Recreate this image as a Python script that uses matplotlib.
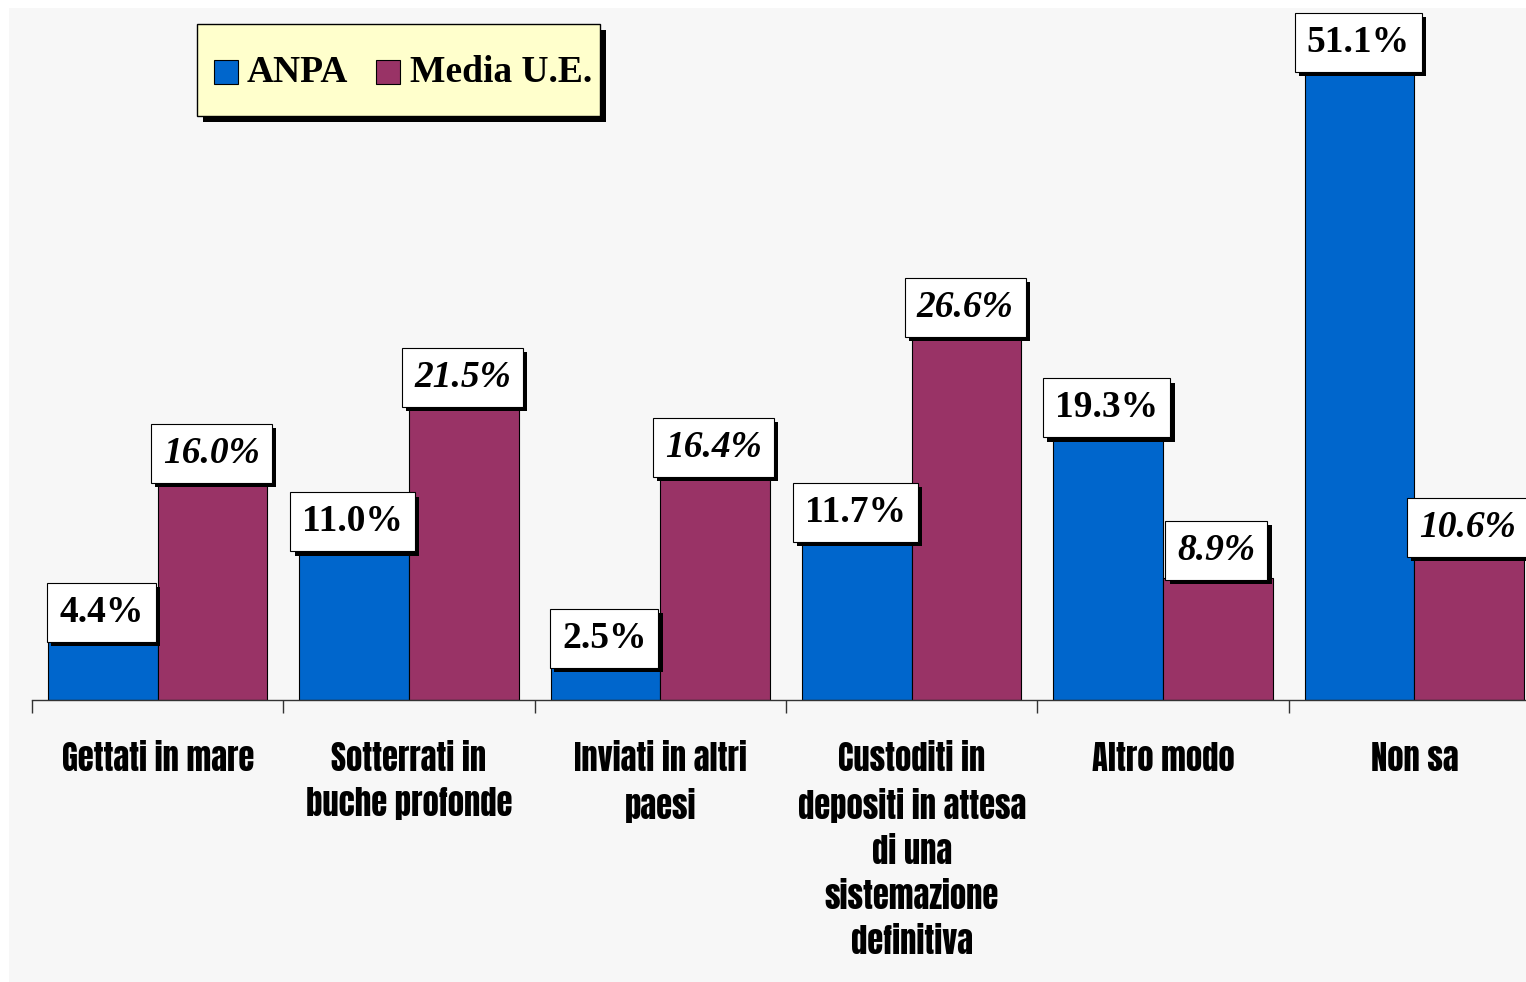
import matplotlib
matplotlib.use("Agg")
import matplotlib.pyplot as plt
from matplotlib.patches import Rectangle
import matplotlib.patheffects as pe
import numpy as np

categories = ["Gettati in mare", "Sotterrati in\nbuche profonde", "Inviati in altri\npaesi",
              "Custoditi in\ndepositi in attesa\ndi una\nsistemazione\ndefinitiva",
              "Altro modo", "Non sa"]
anpa = [4.4, 11.0, 2.5, 11.7, 19.3, 51.1]
media_ue = [16.0, 21.5, 16.4, 26.6, 8.9, 10.6]
series_names = ["ANPA", "Media U.E."]
colors = ["#0066cc", "#993366"]
ymax = 50

W, H = 1526, 982
fig = plt.figure(figsize=(W / 100, H / 100), dpi=100, facecolor="white")
fig.patches.append(Rectangle((9 / W, 0), 1, 1 - 8 / H, transform=fig.transFigure,
                             facecolor="#f7f7f7", edgecolor="none", zorder=-10))

left, right = 32 / W, 1540 / W
bottom, top = 1 - 700 / H, 1 - 14 / H
ax = fig.add_axes([left, bottom, right - left, top - bottom])
ax.set_facecolor("none")

x = np.arange(len(categories))
bw = 0.436
b1 = ax.bar(x - bw / 2, anpa, bw, color=colors[0], edgecolor="black", linewidth=0.8,
            label=series_names[0])
b2 = ax.bar(x + bw / 2, media_ue, bw, color=colors[1], edgecolor="black", linewidth=0.8,
            label=series_names[1])
ax.set_xlim(-0.5, len(categories) - 0.5)
ax.set_ylim(0, ymax)

for s in ["top", "right", "left"]:
    ax.spines[s].set_visible(False)
ax.spines["bottom"].set_color("#333333")
ax.spines["bottom"].set_linewidth(1.0)
ax.set_yticks([])
ax.set_xticks(x)
ax.set_xticklabels(categories, family=["Anton", "Oswald", "Barlow Condensed"],
                   fontweight="black", fontsize=23.5, linespacing=1.42, va="top")
ax.tick_params(axis="x", which="major", length=0, pad=30)
ax.set_xticks(np.arange(len(categories) + 1) - 0.5, minor=True)
ax.tick_params(axis="x", which="minor", length=9.5, width=1.0, color="#333333", direction="out")

fs = 27
shadow = [pe.SimplePatchShadow(offset=(3, -3), shadow_rgbFace="black", alpha=1), pe.Normal()]


def label(xc, v, italic):
    kw = dict(textcoords="offset points", ha="center", fontsize=fs, fontweight="bold",
              family="Liberation Serif", style="italic" if italic else "normal",
              bbox=dict(boxstyle="square,pad=0.32", fc="white", ec="black", lw=0.8),
              annotation_clip=False, zorder=5)
    if v > ymax:
        t = ax.annotate(f"{v:.1f}%", (xc, ymax), xytext=(-1, -8), va="top", **kw)
    else:
        t = ax.annotate(f"{v:.1f}%", (xc, v), xytext=(-1, 7), va="bottom", **kw)
    t.get_bbox_patch().set_path_effects(shadow)


for xi, v in zip(x - bw / 2, anpa):
    label(xi, v, False)
for xi, v in zip(x + bw / 2, media_ue):
    label(xi, v, True)


# legend drawn in figure pixel coordinates
def fpx(px, py):
    return (px / W, 1 - py / H)


lx0, ly0, lx1, ly1 = 197, 24, 600, 116
frame = Rectangle(fpx(lx0, ly1), (lx1 - lx0) / W, (ly1 - ly0) / H, transform=fig.transFigure,
                  facecolor="#ffffcc", edgecolor="black", linewidth=1.0, zorder=20)
frame.set_path_effects([pe.SimplePatchShadow(offset=(4, -4), shadow_rgbFace="black", alpha=1),
                        pe.Normal()])
fig.add_artist(frame)
for hx, tx, name, c in zip([214, 376], [247, 410], series_names, colors):
    fig.add_artist(Rectangle(fpx(hx, 84), 24 / W, 24 / H, transform=fig.transFigure,
                             facecolor=c, edgecolor="black", linewidth=0.8, zorder=21))
    fig.text(*fpx(tx, 73), name, ha="left", va="center", fontsize=27, fontweight="bold",
             family="Liberation Serif", zorder=21)

fig.savefig("out.png", dpi=100, facecolor=fig.get_facecolor())
